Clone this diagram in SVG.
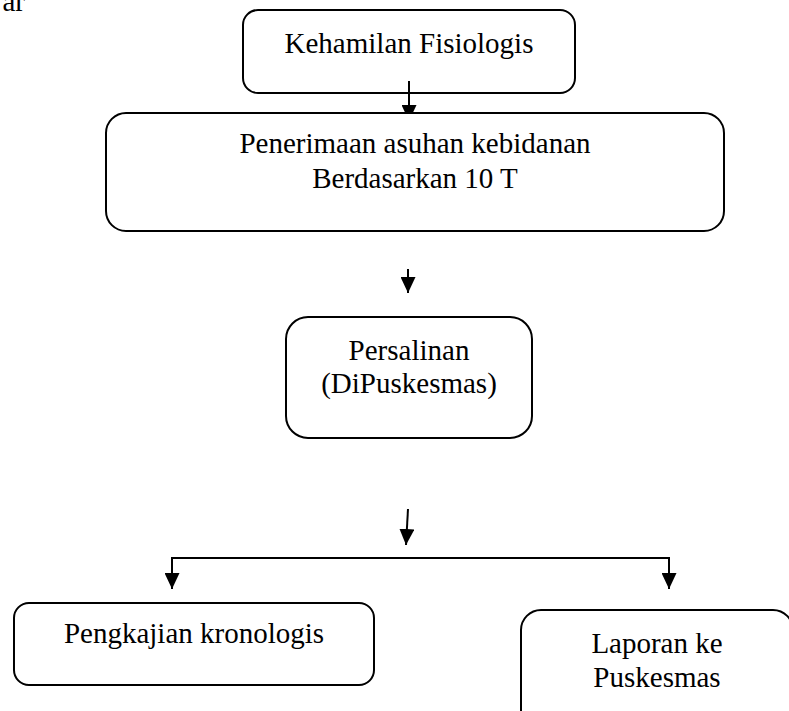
<svg xmlns="http://www.w3.org/2000/svg" width="789" height="711" viewBox="0 0 789 711">
  <style>
    .box { fill: #ffffff; stroke: #000000; stroke-width: 2; }
    .lbl { font-family: 'Liberation Serif', serif; font-size: 29px; fill: #000000; text-anchor: middle; }
    .conn { fill: none; stroke: #000000; stroke-width: 2; }
  </style>
  <defs>
    <marker id="arrow" viewBox="0 0 16 15" refX="16" refY="7.5" markerWidth="16" markerHeight="15" markerUnits="userSpaceOnUse" orient="auto">
      <path d="M0,0 L16,7.5 L0,15 z" fill="#000000"/>
    </marker>
  </defs>
  <rect width="789" height="711" fill="#ffffff"/>
  <text class="lbl" font-family="Liberation Serif, serif" x="25" y="11" text-anchor="end" style="text-anchor:end">ar</text>

  <g id="node-kehamilan">
    <rect class="box" x="243" y="10" width="332" height="83" rx="15" ry="15"/>
    <text class="lbl" font-family="Liberation Serif, serif" x="409" y="53">Kehamilan Fisiologis</text>
  </g>

  <g id="connectors">
    <line class="conn" x1="409" y1="81" x2="409" y2="121" marker-end="url(#arrow)"/>
    <line class="conn" x1="408" y1="269" x2="408" y2="293" marker-end="url(#arrow)"/>
    <line class="conn" x1="408" y1="509" x2="406" y2="545" marker-end="url(#arrow)"/>
    <line class="conn" x1="171" y1="558" x2="670" y2="558"/>
    <line class="conn" x1="172" y1="557" x2="172" y2="589" marker-end="url(#arrow)"/>
    <line class="conn" x1="669" y1="557" x2="669" y2="589" marker-end="url(#arrow)"/>
  </g>

  <g id="node-penerimaan">
    <rect class="box" x="106" y="113" width="618" height="118" rx="20" ry="20"/>
    <text class="lbl" font-family="Liberation Serif, serif" x="415" y="153">Penerimaan asuhan kebidanan</text>
    <text class="lbl" font-family="Liberation Serif, serif" x="415" y="188">Berdasarkan 10 T</text>
  </g>

  <g id="node-persalinan">
    <rect class="box" x="286" y="317" width="246" height="121" rx="22" ry="22"/>
    <text class="lbl" font-family="Liberation Serif, serif" x="409" y="360">Persalinan</text>
    <text class="lbl" font-family="Liberation Serif, serif" x="409" y="393">(DiPuskesmas)</text>
  </g>

  <g id="node-pengkajian">
    <rect class="box" x="14" y="603" width="360" height="82" rx="15" ry="15"/>
    <text class="lbl" font-family="Liberation Serif, serif" x="194" y="643">Pengkajian kronologis</text>
  </g>

  <g id="node-laporan">
    <rect class="box" x="521" y="610" width="272" height="125" rx="20" ry="20"/>
    <text class="lbl" font-family="Liberation Serif, serif" x="657" y="653">Laporan ke</text>
    <text class="lbl" font-family="Liberation Serif, serif" x="657" y="687">Puskesmas</text>
  </g>
</svg>
